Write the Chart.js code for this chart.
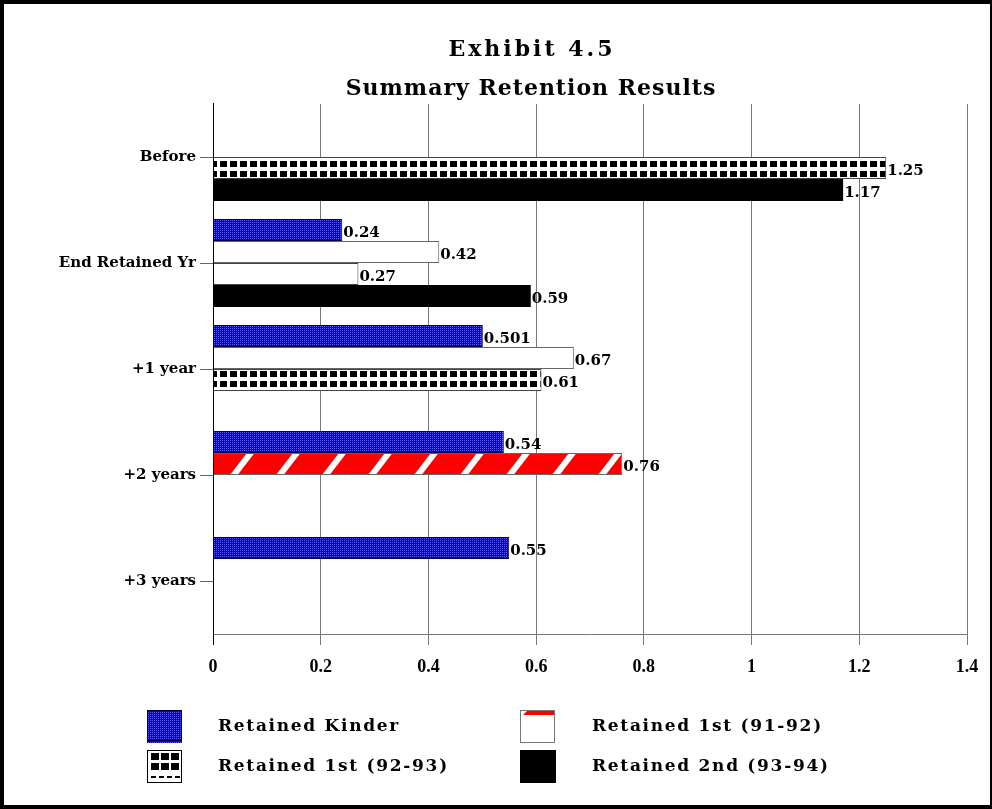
<!DOCTYPE html>
<html>
<head>
<meta charset="utf-8">
<script src="https://cdn.jsdelivr.net/npm/chart.js@4"></script>
<style>
  html, body { margin: 0; padding: 0; background: #fff; }
  #wrap { width: 992px; height: 809px; position: relative; }
</style>
</head>
<body>
<div id="wrap"><canvas id="retention-chart"></canvas></div>
<script>
const categories = ['Before', 'End Retained Yr', '+1 year', '+2 years', '+3 years'];
const kinder = [null, 0.24, 0.501, 0.54, 0.55];
const first9192 = [null, 0.42, 0.67, 0.76, null];
const first9293 = [1.25, 0.27, 0.61, null, null];
const second9394 = [1.17, 0.59, null, null, null];
const seriesNames = ['Retained Kinder', 'Retained 1st (91-92)', 'Retained 1st (92-93)', 'Retained 2nd (93-94)'];
const xTickLabels = ['0', '0.2', '0.4', '0.6', '0.8', '1', '1.2', '1.4'];
const titleLines = ['Exhibit 4.5', 'Summary Retention Results'];

const SERIF = '"DejaVu Serif", "Liberation Serif", serif';

function makePattern(w, h, draw) {
    const c = document.createElement('canvas');
    c.width = w;
    c.height = h;
    const g = c.getContext('2d');
    draw(g, w, h);
    return document.createElement('canvas').getContext('2d').createPattern(c, 'repeat');
}

// blue dotted fill
const bluePattern = makePattern(2, 2, (g) => {
    g.fillStyle = '#0000f0';
    g.fillRect(0, 0, 2, 2);
    g.fillStyle = '#5a5aff';
    g.fillRect(0, 0, 1, 1);
});

// black squares grid
const gridPattern = makePattern(10, 10, (g) => {
    g.fillStyle = '#fff';
    g.fillRect(0, 0, 10, 10);
    g.fillStyle = '#000';
    g.fillRect(0, 1, 7, 6);
});

// red with white slashes
const stripePattern = makePattern(46, 60, (g, w, h) => {
    g.fillStyle = '#ff0000';
    g.fillRect(0, 0, w, h);
    g.strokeStyle = '#fff';
    g.lineWidth = 6;
    [-w, 0, w].forEach(dx => {
        g.beginPath();
        g.moveTo(dx, h);
        g.lineTo(dx + w, 0);
        g.stroke();
    });
});

const framePlugin = {
    id: 'frame',
    beforeDraw(chart) {
        const ctx = chart.ctx;
        ctx.save();
        ctx.fillStyle = '#fff';
        ctx.fillRect(0, 0, chart.width, chart.height);
        ctx.restore();
    },
    afterDraw(chart) {
        const ctx = chart.ctx;
        const w = chart.width, h = chart.height;
        const area = chart.chartArea;
        ctx.save();
        ctx.fillStyle = '#000';
        ctx.fillRect(0, 0, w, 4);
        ctx.fillRect(0, 0, 4, h);
        ctx.fillRect(w - 2, 0, 2, h);
        ctx.fillRect(0, h - 4, w, 4);

        // left axis, running down past the x axis like the ticks
        ctx.fillRect(Math.round(area.left), area.top - 1, 1, area.bottom - area.top + 12);

        // title
        ctx.fillStyle = '#000';
        ctx.textAlign = 'center';
        ctx.textBaseline = 'middle';
        ctx.font = 'bold 22px ' + SERIF;
        ctx.letterSpacing = '3px';
        ctx.fillText(titleLines[0], 532, 50);
        ctx.letterSpacing = '1px';
        ctx.fillText(titleLines[1], 531, 89);

        // legend
        const items = [
            { x: 147, y: 710, tx: 218, ds: 0 },
            { x: 520, y: 710, tx: 592, ds: 1 },
            { x: 147, y: 750, tx: 218, ds: 2 },
            { x: 520, y: 750, tx: 592, ds: 3 }
        ];
        ctx.font = 'bold 17px ' + SERIF;
        ctx.letterSpacing = '1.7px';
        ctx.textAlign = 'left';
        items.forEach(it => {
            const sw = 35, sh = 33;
            if (it.ds === 0) {
                ctx.fillStyle = bluePattern;
                ctx.fillRect(it.x, it.y, sw, sh);
                ctx.strokeStyle = '#000040';
                ctx.lineWidth = 1;
                ctx.strokeRect(it.x + 0.5, it.y + 0.5, sw - 1, sh - 3);
            } else if (it.ds === 1) {
                ctx.fillStyle = '#fff';
                ctx.fillRect(it.x, it.y, sw, sh);
                ctx.fillStyle = '#ff0000';
                ctx.beginPath();
                ctx.moveTo(it.x + 3, it.y + 5);
                ctx.lineTo(it.x + 8, it.y);
                ctx.lineTo(it.x + sw, it.y);
                ctx.lineTo(it.x + sw, it.y + 5);
                ctx.closePath();
                ctx.fill();
                ctx.strokeStyle = '#777';
                ctx.lineWidth = 1;
                ctx.strokeRect(it.x + 0.5, it.y + 0.5, sw - 1, sh - 1);
            } else if (it.ds === 2) {
                ctx.fillStyle = '#fff';
                ctx.fillRect(it.x, it.y, sw, sh);
                ctx.fillStyle = '#000';
                for (let r = 0; r < 2; r++) {
                    for (let c = 0; c < 3; c++) {
                        ctx.fillRect(it.x + 4 + c * 10, it.y + 3 + r * 10, 8, 7);
                    }
                }
                for (let c = 0; c < 4; c++) {
                    ctx.fillRect(it.x + 4 + c * 8, it.y + 26, 5, 2);
                }
                ctx.strokeStyle = '#000';
                ctx.lineWidth = 1;
                ctx.strokeRect(it.x + 0.5, it.y + 0.5, sw - 1, sh - 1);
            } else {
                ctx.fillStyle = '#000';
                ctx.fillRect(it.x, it.y, sw + 1, sh);
            }
            ctx.fillStyle = '#000';
            ctx.textBaseline = 'middle';
            ctx.fillText(chart.data.datasets[it.ds].label, it.tx, it.y + sh / 2);
        });
        ctx.restore();
    }
};

const valueLabels = {
    id: 'valueLabels',
    afterDatasetsDraw(chart) {
        const ctx = chart.ctx;
        ctx.save();
        ctx.font = 'bold 15px ' + SERIF;
        ctx.fillStyle = '#000';
        ctx.textAlign = 'left';
        ctx.textBaseline = 'middle';
        chart.data.datasets.forEach((ds, i) => {
            const meta = chart.getDatasetMeta(i);
            meta.data.forEach((bar, j) => {
                const v = ds.data[j];
                if (v === null || v === undefined) return;
                ctx.fillText(String(v), bar.x + 1, bar.y + 3);
            });
        });
        ctx.restore();
    }
};

const ctx = document.getElementById('retention-chart').getContext('2d');
new Chart(ctx, {
    type: 'bar',
    data: {
        labels: categories,
        datasets: [
            {
                label: seriesNames[0],
                data: kinder,
                backgroundColor: bluePattern,
                borderColor: '#000050',
                borderWidth: 1
            },
            {
                label: seriesNames[1],
                data: first9192,
                backgroundColor: ['#fff', '#fff', '#fff', stripePattern, '#fff'],
                borderColor: '#666',
                borderWidth: 1
            },
            {
                label: seriesNames[2],
                data: first9293,
                backgroundColor: [gridPattern, '#fff', gridPattern, gridPattern, gridPattern],
                borderColor: '#444',
                borderWidth: 1
            },
            {
                label: seriesNames[3],
                data: second9394,
                backgroundColor: '#000',
                borderColor: '#000',
                borderWidth: 0
            }
        ]
    },
    options: {
        indexAxis: 'y',
        responsive: true,
        maintainAspectRatio: false,
        animation: false,
        devicePixelRatio: 1,
        categoryPercentage: 0.83,
        barPercentage: 1,
        layout: {
            padding: { top: 104, right: 25, bottom: 115, left: 0 }
        },
        scales: {
            x: {
                min: 0,
                max: 1.4,
                afterFit: (scale) => { scale.height = 60; },
                grid: { color: '#777', tickLength: 11, lineWidth: 1 },
                border: { color: '#777' },
                ticks: {
                    stepSize: 0.2,
                    padding: 12,
                    color: '#000',
                    font: { family: '"Liberation Serif", serif', weight: 'bold', size: 18 },
                    callback: (value, index) => xTickLabels[index]
                }
            },
            y: {
                afterFit: (scale) => { scale.width = 213; },
                grid: { offset: false, drawOnChartArea: false, tickLength: 13, color: '#666' },
                border: { display: false },
                ticks: {
                    padding: 4,
                    color: '#000',
                    font: { family: SERIF, weight: 'bold', size: 15 }
                }
            }
        },
        plugins: {
            legend: { display: false },
            title: { display: false },
            tooltip: { enabled: false }
        }
    },
    plugins: [framePlugin, valueLabels]
});
</script>
</body>
</html>
